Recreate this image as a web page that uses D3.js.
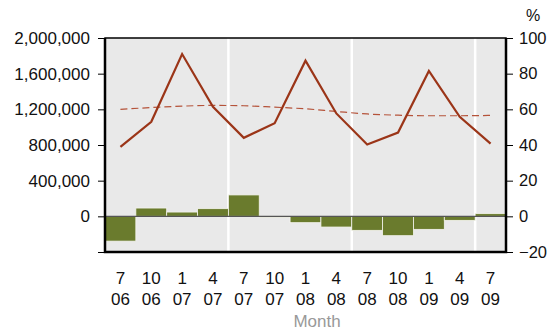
<!DOCTYPE html>
<html>
<head>
<meta charset="utf-8">
<script src="https://cdn.jsdelivr.net/npm/d3@7"></script>
<style>
  body { margin: 0; background: #fff; }
  text { font-family: "Liberation Sans", Arial, sans-serif; }
</style>
</head>
<body>
<div id="chart"></div>
<script>
var width = 560, height = 331;
var margin = {top: 38, right: 54, bottom: 79, left: 105};

// month / year labels
var months = ["7", "10", "1", "4", "7", "10", "1", "4", "7", "10", "1", "4", "7"];
var years  = ["06", "06", "07", "07", "07", "07", "08", "08", "08", "08", "09", "09", "09"];
// bars (left axis)
var barValues = [-278000, 93000, 48000, 86000, 240000, -12000, -71000, -120000, -157000, -217000, -146000, -45000, 30000];
// solid line (right axis, %)
var lineValues = [39, 53, 91, 61.4, 44, 52.2, 87.3, 57.7, 40.3, 47, 81.5, 55.8, 40.8];
// dashed trend (right axis, %)
var trendValues = [60, 61, 61.8, 62.2, 62, 61.2, 60.3, 58.8, 57.4, 56.7, 56.4, 56.4, 56.6];

var leftTicks = [-400000, 0, 400000, 800000, 1200000, 1600000, 2000000];
var rightTicks = [-20, 0, 20, 40, 60, 80, 100];

var keys = months.map(function(m, i) { return i; });

var svg = d3.select("#chart").append("svg")
  .attr("width", width).attr("height", height);

var x = d3.scaleBand().domain(keys)
  .range([margin.left, width - margin.right]).padding(0);
var yL = d3.scaleLinear().domain([-400000, 2000000])
  .range([height - margin.bottom, margin.top]);
var yR = d3.scaleLinear().domain([-20, 100])
  .range([height - margin.bottom, margin.top]);

// panel background
svg.append("rect")
  .attr("x", margin.left).attr("y", margin.top)
  .attr("width", width - margin.left - margin.right)
  .attr("height", height - margin.top - margin.bottom)
  .attr("fill", "#e9e9e9");

// white separators at each July
svg.append("g").selectAll("line")
  .data(keys.filter(function(i) { return i > 0 && months[i] === "7"; }))
  .enter().append("line")
  .attr("x1", function(d) { return x(d); })
  .attr("x2", function(d) { return x(d); })
  .attr("y1", margin.top).attr("y2", height - margin.bottom)
  .attr("stroke", "#fff").attr("stroke-width", 2.5);

// bars
svg.append("g").selectAll("rect")
  .data(barValues)
  .enter().append("rect")
  .attr("x", function(d, i) { return x(i); })
  .attr("width", x.bandwidth())
  .attr("y", function(d) { return yL(Math.max(0, d)); })
  .attr("height", function(d) { return Math.abs(yL(d) - yL(0)); })
  .attr("fill", "#6a7b2d")
  .attr("stroke", "#f4f4ee").attr("stroke-width", 0.8);

// zero line
svg.append("line")
  .attr("x1", margin.left).attr("x2", width - margin.right)
  .attr("y1", yL(0)).attr("y2", yL(0))
  .attr("stroke", "#555").attr("stroke-width", 1.2);

var cx = function(d, i) { return x(i) + x.bandwidth() / 2; };

// dashed trend
svg.append("path")
  .datum(trendValues)
  .attr("fill", "none")
  .attr("stroke", "#b5533a").attr("stroke-width", 1.2)
  .attr("stroke-dasharray", "7,4")
  .attr("d", d3.line().x(cx).y(function(d) { return yR(d); }).curve(d3.curveMonotoneX));

// solid line
svg.append("path")
  .datum(lineValues)
  .attr("fill", "none")
  .attr("stroke", "#9b3518").attr("stroke-width", 2.2)
  .attr("d", d3.line().x(cx).y(function(d) { return yR(d); }));

// frame
svg.append("rect")
  .attr("x", margin.left).attr("y", margin.top)
  .attr("width", width - margin.left - margin.right)
  .attr("height", height - margin.top - margin.bottom)
  .attr("fill", "none").attr("stroke", "#000").attr("stroke-width", 1.5);
svg.append("path")
  .attr("d", "M" + margin.left + "," + margin.top + "V" + (height - margin.bottom) +
    "H" + (width - margin.right) + "V" + margin.top)
  .attr("fill", "none").attr("stroke", "#000").attr("stroke-width", 2.5);

// left axis
var fmt = d3.format(",");
var gl = svg.append("g").attr("transform", "translate(" + (margin.left - 1) + ",0)")
  .call(d3.axisLeft(yL).tickValues(leftTicks).tickSize(6).tickPadding(8)
    .tickFormat(function(d) { return d < 0 ? "" : fmt(d); }));
gl.select(".domain").remove();
gl.selectAll("line").attr("stroke", "#000");
gl.selectAll("text").attr("font-size", 17).attr("fill", "#111")
  .style("font-family", "'Liberation Sans', Arial, sans-serif");

// right axis
var gr = svg.append("g").attr("transform", "translate(" + (width - margin.right + 1) + ",0)")
  .call(d3.axisRight(yR).tickValues(rightTicks).tickSize(6).tickPadding(6));
gr.select(".domain").remove();
gr.selectAll("line").attr("stroke", "#000");
gr.selectAll("text").attr("font-size", 16.5).attr("fill", "#111")
  .style("font-family", "'Liberation Sans', Arial, sans-serif");

svg.append("text")
  .attr("x", width - margin.right + 27).attr("y", 21)
  .attr("text-anchor", "middle").attr("font-size", 16).attr("fill", "#111")
  .text("%");

// x labels (two rows)
var xl = svg.append("g").selectAll("text")
  .data(keys).enter().append("text")
  .attr("x", function(d) { return x(d) + x.bandwidth() / 2; })
  .attr("text-anchor", "middle").attr("font-size", 17).attr("fill", "#111");
xl.append("tspan").attr("x", function(d) { return x(d) + x.bandwidth() / 2; })
  .attr("y", 284).text(function(d) { return months[d]; });
xl.append("tspan").attr("x", function(d) { return x(d) + x.bandwidth() / 2; })
  .attr("y", 305).text(function(d) { return years[d]; });

svg.append("text")
  .attr("x", 317).attr("y", 327)
  .attr("text-anchor", "middle").attr("font-size", 17).attr("fill", "#999")
  .text("Month");
</script>
</body>
</html>
